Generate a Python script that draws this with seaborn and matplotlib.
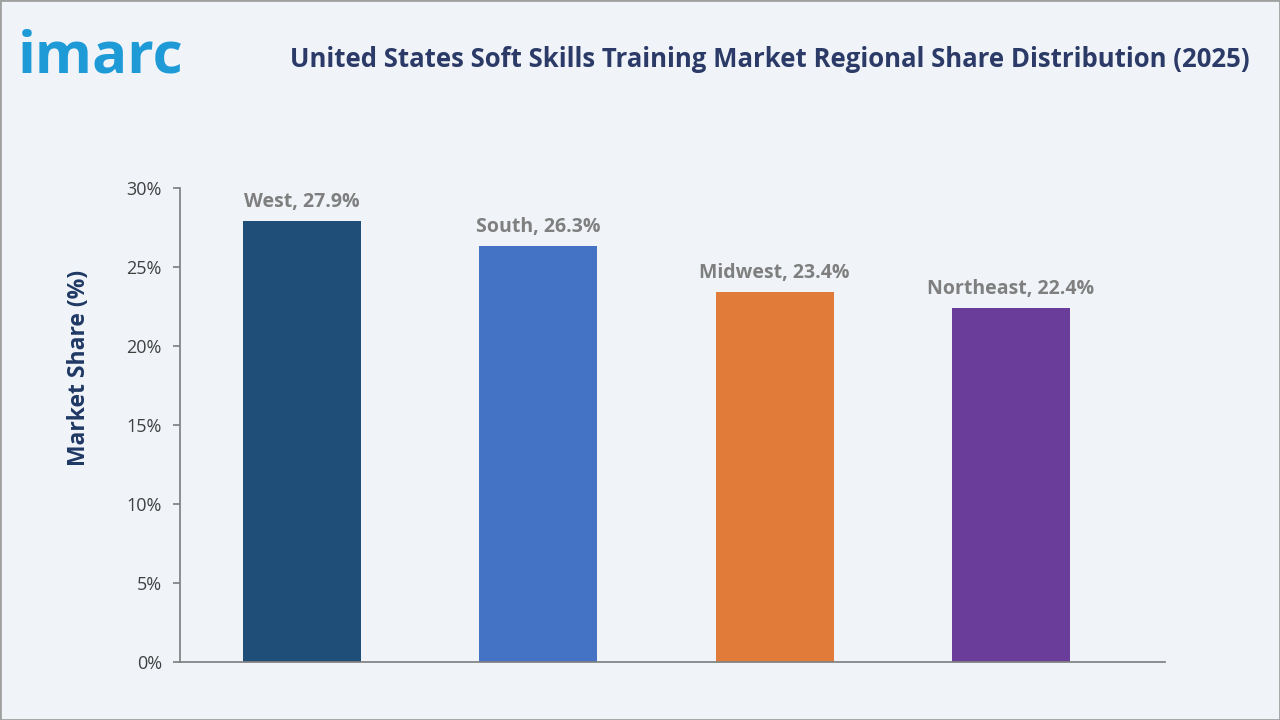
import numpy as np
import pandas as pd
import matplotlib.pyplot as plt
import seaborn as sns

regions = ["West", "South", "Midwest", "Northeast"]
shares = [27.9, 26.3, 23.4, 22.4]
colors = ["#1F4E79", "#4472C4", "#E07B39", "#6A3D9A"]
yticks = [0, 5, 10, 15, 20, 25, 30]

bg = "#F0F4F9"
sns.set_theme(style="white")
plt.rcParams['font.family'] = ['Open Sans', 'DejaVu Sans']

fig = plt.figure(figsize=(12.8, 7.2), dpi=100, facecolor=bg)
ax = fig.add_axes([0.1406, 0.0806, 0.7695, 0.6584], facecolor=bg)

df = pd.DataFrame({"region": regions, "share": shares})
sns.barplot(data=df, x="region", y="share", hue="region", palette=colors,
            width=0.5, legend=False, ax=ax, saturation=1, linewidth=0)

for i, (r, v) in enumerate(zip(regions, shares)):
    ax.text(i, v + 0.6, f"{r}, {v}%", ha="center", va="bottom",
            fontsize=14, color="#7F7F7F", fontweight="bold")

ax.set_xlim(-0.516, 3.651)
ax.set_ylim(0, 30)
ax.set_yticks(yticks)
ax.set_yticklabels([f"{t}%" for t in yticks], fontsize=13, color="#404040")
ax.set_xticks([])
ax.set_xlabel("")
ax.set_ylabel("Market Share (%)", fontsize=16.5, fontweight="bold", color="#1F3864")
ax.yaxis.set_label_coords(-0.09, 0.62)
ax.tick_params(axis="y", length=5, color="#808080", left=True, pad=8)
for s in ["top", "right"]:
    ax.spines[s].set_visible(False)
for s in ["left", "bottom"]:
    ax.spines[s].set_color("#808080")

fig.text(0.976, 0.918, "United States Soft Skills Training Market Regional Share Distribution (2025)",
         ha="right", va="center", fontsize=18.5, fontweight="bold", color="#2B3A67")
fig.text(0.014, 0.92, "imarc", ha="left", va="center", fontsize=42, fontweight="bold", color="#1E9BD7")

fig.patches.append(plt.Rectangle((0, 0), 1, 1, transform=fig.transFigure, fill=False,
                                 edgecolor="#A0A0A0", linewidth=2))
fig.savefig("out.png", dpi=100, facecolor=bg)
